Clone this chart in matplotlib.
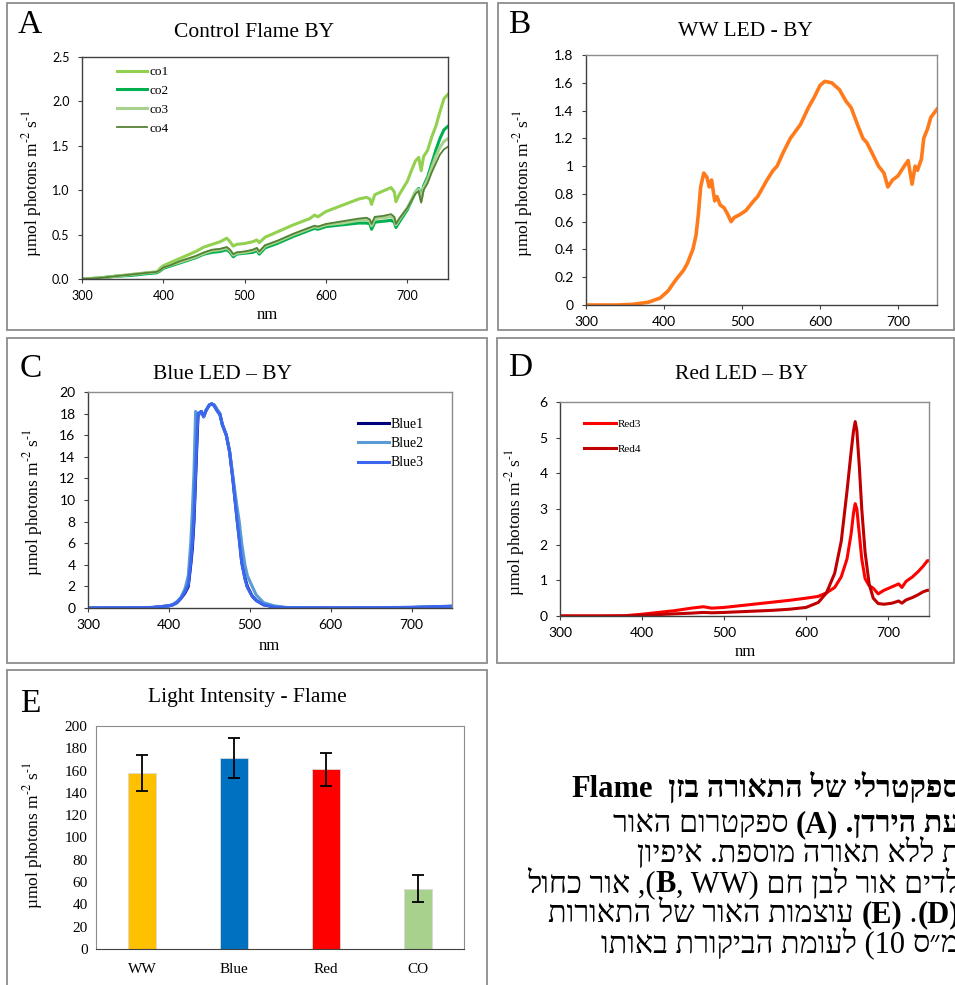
import matplotlib
matplotlib.use("Agg")
import matplotlib.pyplot as plt
from matplotlib.patches import Rectangle
from matplotlib.transforms import Bbox

plt.rcParams['font.family'] = ['Liberation Serif', 'DejaVu Sans']
plt.rcParams['mathtext.fontset'] = 'stix'

W, H = 955, 985

# ---- data ----
wl_a = [300, 320, 340, 360, 380, 392, 396, 400, 410, 420, 430, 440, 450, 460, 470, 478, 482, 486, 490,
        500, 510, 515, 518, 525, 540, 560, 580, 586, 590, 600, 620, 640, 650, 654, 656, 660, 670, 680,
        684, 686, 690, 700, 705, 710, 714, 717, 720, 725, 730, 735, 740, 745, 750]
co1 = [0.0, 0.01, 0.03, 0.05, 0.07, 0.08, 0.12, 0.15, 0.19, 0.23, 0.27, 0.31, 0.36, 0.39, 0.42, 0.46, 0.42,
       0.37, 0.39, 0.40, 0.42, 0.44, 0.41, 0.47, 0.53, 0.61, 0.68, 0.72, 0.70, 0.76, 0.83, 0.90, 0.92, 0.90,
       0.84, 0.95, 0.99, 1.03, 0.98, 0.87, 0.95, 1.10, 1.22, 1.33, 1.37, 1.22, 1.38, 1.45, 1.60, 1.72, 1.88,
       2.03, 2.08]
co2 = [0.0, 0.01, 0.03, 0.04, 0.06, 0.07, 0.09, 0.12, 0.15, 0.18, 0.21, 0.24, 0.28, 0.30, 0.31, 0.33, 0.30,
       0.25, 0.28, 0.29, 0.30, 0.32, 0.28, 0.35, 0.40, 0.48, 0.55, 0.57, 0.56, 0.59, 0.61, 0.63, 0.63, 0.62,
       0.56, 0.64, 0.65, 0.66, 0.64, 0.58, 0.64, 0.78, 0.88, 0.98, 1.02, 0.90, 1.05, 1.15, 1.30, 1.45, 1.58,
       1.68, 1.72]
co3 = [0.0, 0.01, 0.03, 0.05, 0.07, 0.08, 0.10, 0.13, 0.16, 0.19, 0.22, 0.25, 0.29, 0.32, 0.33, 0.35, 0.32,
       0.27, 0.29, 0.30, 0.32, 0.34, 0.30, 0.37, 0.42, 0.50, 0.57, 0.59, 0.58, 0.61, 0.63, 0.66, 0.67, 0.65,
       0.60, 0.68, 0.69, 0.70, 0.68, 0.61, 0.67, 0.80, 0.89, 0.98, 1.01, 0.88, 1.03, 1.12, 1.25, 1.38, 1.48,
       1.55, 1.58]
co4 = [0.0, 0.01, 0.03, 0.05, 0.07, 0.08, 0.10, 0.13, 0.16, 0.20, 0.23, 0.26, 0.30, 0.33, 0.34, 0.36, 0.33,
       0.28, 0.30, 0.31, 0.33, 0.35, 0.31, 0.38, 0.43, 0.51, 0.58, 0.60, 0.59, 0.62, 0.65, 0.68, 0.69, 0.67,
       0.62, 0.70, 0.71, 0.73, 0.70, 0.62, 0.68, 0.80, 0.88, 0.96, 0.99, 0.86, 1.00, 1.08, 1.20, 1.30, 1.40,
       1.46, 1.49]

wl_b = [300, 340, 360, 380, 395, 405, 415, 425, 430, 437, 441, 444, 447, 451, 455, 458, 461, 465, 468, 472,
        477, 482, 486, 490, 497, 505, 515, 520, 527, 532, 540, 545, 553, 562, 575, 585, 593, 600, 606, 615,
        625, 633, 640, 648, 655, 660, 668, 675, 682, 687, 693, 700, 708, 713, 718, 722, 725, 730, 733, 738,
        742, 750]
ww = [0.0, 0.0, 0.005, 0.02, 0.05, 0.1, 0.18, 0.25, 0.3, 0.4, 0.5, 0.65, 0.85, 0.95, 0.92, 0.85, 0.9, 0.75,
      0.78, 0.72, 0.7, 0.65, 0.6, 0.63, 0.65, 0.68, 0.75, 0.78, 0.85, 0.9, 0.97, 1.0, 1.1, 1.2, 1.3, 1.42,
      1.5, 1.58, 1.61, 1.6, 1.55, 1.47, 1.42, 1.3, 1.2, 1.17, 1.08, 1.0, 0.95, 0.85, 0.9, 0.93, 1.0, 1.04,
      0.87, 1.0, 0.97, 1.05, 1.2, 1.27, 1.35, 1.41]

wl_c = [300, 350, 380, 400, 405, 410, 415, 420, 424, 427, 429, 431, 433, 435, 436, 438, 440, 443, 446, 450,
        453, 456, 460, 463, 466, 471, 475, 479, 484, 487, 490, 494, 497, 503, 508, 517, 530, 545, 600, 700, 750]
blue1 = [0, 0.02, 0.05, 0.2, 0.3, 0.5, 0.9, 1.4, 2.0, 4.0, 5.5, 8, 12, 16, 17.8, 18.0, 18.2, 17.7, 18.3, 18.8,
         18.9, 18.8, 18.3, 18.0, 17.0, 16.0, 14.5, 12.0, 8.5, 6.5, 4.3, 2.8, 2.0, 1.1, 0.7, 0.3, 0.1, 0.03, 0.0,
         0.05, 0.15]
blue2 = [0, 0.02, 0.05, 0.2, 0.35, 0.6, 1.0, 1.8, 3.0, 6.0, 9.0, 12.5, 18.2, 18.0, 17.9, 18.0, 18.2, 17.7, 18.3,
         18.8, 18.9, 18.8, 18.3, 18.0, 17.0, 16.0, 14.5, 12.3, 9.5, 8.0, 6.0, 4.0, 3.0, 2.0, 1.2, 0.5, 0.2, 0.05,
         0.0, 0.05, 0.15]
blue3 = [0, 0.02, 0.05, 0.2, 0.3, 0.5, 0.9, 1.5, 2.2, 4.2, 6.0, 8.5, 12.5, 16.5, 18.0, 18.1, 18.2, 17.8, 18.3,
         18.8, 18.9, 18.7, 18.2, 17.9, 17.0, 16.0, 14.5, 12.0, 8.3, 6.3, 4.2, 2.7, 1.9, 1.1, 0.7, 0.3, 0.1, 0.03,
         0.01, 0.06, 0.17]

wl_d = [300, 350, 380, 400, 420, 440, 460, 475, 485, 500, 520, 540, 560, 580, 600, 615, 625, 635, 643, 650,
        655, 658, 660, 662, 665, 668, 672, 677, 682, 688, 695, 705, 713, 717, 722, 730, 737, 743, 748, 750]
red3 = [0, 0, 0.01, 0.05, 0.1, 0.15, 0.22, 0.26, 0.22, 0.24, 0.29, 0.34, 0.39, 0.44, 0.5, 0.55, 0.65, 0.8,
        1.1, 1.6, 2.3, 2.9, 3.15, 3.0, 2.3, 1.6, 1.05, 0.85, 0.78, 0.62, 0.72, 0.82, 0.9, 0.8, 0.97, 1.1,
        1.25, 1.4, 1.55, 1.55]
red4 = [0, 0, 0, 0.02, 0.04, 0.06, 0.08, 0.1, 0.09, 0.1, 0.12, 0.14, 0.16, 0.19, 0.24, 0.38, 0.65, 1.2, 2.1,
        3.5, 4.6, 5.2, 5.45, 5.2, 4.2, 3.0, 1.8, 0.9, 0.5, 0.35, 0.33, 0.36, 0.42, 0.36, 0.45, 0.52, 0.6,
        0.68, 0.72, 0.72]

bar_labels = ['WW', 'Blue', 'Red', 'CO']
bar_values = [158, 171, 161, 54]
bar_errors = [16, 18, 15, 12]
bar_colors = ['#ffc000', '#0070c0', '#ff0000', '#a9d18e']

ylab = r'µmol photons m$^{\text{-2}}$ s$^{\text{-1}}$'


def rect(l, t, r, b):
    return [l / W, 1 - b / H, (r - l) / W, (b - t) / H]


def ftext(x, y, s, **kw):
    return fig.text(x / W, 1 - y / H, s, **kw)


def frame(l, t, r, b):
    fig.add_artist(Rectangle((l / W, 1 - b / H), (r - l) / W, (b - t) / H, transform=fig.transFigure,
                             fill=False, edgecolor='#8c8c8c', lw=1.3))


def style(ax, xlim, ylim, yticks, fmt=None, tick_font='Lato', tsize=9.5):
    ax.set_xlim(*xlim)
    ax.set_ylim(*ylim)
    ax.set_yticks(yticks)
    if fmt:
        ax.set_yticklabels([fmt.format(v) for v in yticks])
    else:
        ax.set_yticklabels(['{:g}'.format(v) for v in yticks])
    for s in ax.spines.values():
        s.set_color('#8c8c8c')
        s.set_linewidth(1.0)
    ax.spines['left'].set_color('#404040')
    ax.spines['bottom'].set_color('#404040')
    ax.tick_params(length=3, width=0.8, color='#404040')
    ax.tick_params(axis='y', pad=6)
    ax.tick_params(axis='x', pad=5)
    for lab in ax.get_xticklabels() + ax.get_yticklabels():
        lab.set_family(tick_font)
        lab.set_fontsize(tsize)


fig = plt.figure(figsize=(W / 100, H / 100), dpi=100)

# ---- A ----
frame(7, 3, 487, 330)
axA = fig.add_axes(rect(82, 57, 448, 279))
axA.plot(wl_a, co1, color='#92d050', lw=2.2, label='co1')
axA.plot(wl_a, co2, color='#00b050', lw=2.2, label='co2')
axA.plot(wl_a, co3, color='#a9d18e', lw=2.2, label='co3')
axA.plot(wl_a, co4, color='#548235', lw=1.3, label='co4')
axA.set_xticks([300, 400, 500, 600, 700])
style(axA, (300, 750), (0, 2.5), [0, 0.5, 1.0, 1.5, 2.0, 2.5], fmt='{:.1f}', tsize=9)
for s in axA.spines.values():
    s.set_color('#404040')
axA.legend(loc='upper left', bbox_to_anchor=(117 / W, 1 - 66 / H), bbox_transform=fig.transFigure,
           frameon=False, fontsize=9.5, handlelength=2.3, handletextpad=0.15, labelspacing=0.5,
           borderpad=0, borderaxespad=0)
ftext(18, 33, 'A', fontsize=24)
ftext(254, 37, 'Control Flame BY', fontsize=15.5, ha='center')
ftext(32, 183, ylab, fontsize=12.5, rotation=90, ha='center', va='center')
ftext(267, 315, 'nm', fontsize=12, ha='center', va='center')

# ---- B ----
frame(498, 3, 954, 330)
axB = fig.add_axes(rect(586, 55, 937, 305))
axB.plot(wl_b, ww, color='#ff7a1a', lw=2.6)
axB.set_xticks([300, 400, 500, 600, 700])
style(axB, (300, 750), (0, 1.8), [0, 0.2, 0.4, 0.6, 0.8, 1.0, 1.2, 1.4, 1.6, 1.8], tsize=10)
ftext(508, 33, 'B', fontsize=24)
ftext(745, 36, 'WW LED - BY', fontsize=15.5, ha='center')
ftext(523, 183, ylab, fontsize=12.5, rotation=90, ha='center', va='center')

# ---- C ----
frame(7, 338, 487, 663)
axC = fig.add_axes(rect(88, 392, 452, 608))
axC.plot(wl_c, blue1, color='#00007f', lw=2.2, label='Blue1')
axC.plot(wl_c, blue2, color='#5b9bd5', lw=2.2, label='Blue2')
axC.plot(wl_c, blue3, color='#3a66f0', lw=2.2, label='Blue3')
axC.set_xticks([300, 400, 500, 600, 700])
style(axC, (300, 750), (0, 20), list(range(0, 21, 2)), tsize=10)
axC.legend(loc='upper left', bbox_to_anchor=(358 / W, 1 - 418 / H), bbox_transform=fig.transFigure,
           frameon=False, fontsize=10, handlelength=2.2, handletextpad=0.15, labelspacing=0.45,
           borderpad=0, borderaxespad=0)
ftext(20, 377, 'C', fontsize=24)
ftext(222, 379, 'Blue LED – BY', fontsize=15.5, ha='center')
ftext(33, 502, ylab, fontsize=12.5, rotation=90, ha='center', va='center')
ftext(269, 646, 'nm', fontsize=12, ha='center', va='center')

# ---- D ----
frame(497, 338, 954, 663)
axD = fig.add_axes(rect(560, 402, 929, 616))
axD.plot(wl_d, red3, color='#ff0000', lw=2.2, label='Red3')
axD.plot(wl_d, red4, color='#c00000', lw=2.2, label='Red4')
axD.set_xticks([300, 400, 500, 600, 700])
style(axD, (300, 750), (0, 6), list(range(0, 7)), tsize=10)
axD.legend(loc='upper left', bbox_to_anchor=(584 / W, 1 - 419 / H), bbox_transform=fig.transFigure,
           frameon=False, fontsize=8, handlelength=2.9, handletextpad=0.15, labelspacing=1.35,
           borderpad=0, borderaxespad=0)
ftext(508, 376, 'D', fontsize=24)
ftext(742, 379, 'Red LED – BY', fontsize=15.5, ha='center')
ftext(515, 522, ylab, fontsize=12.5, rotation=90, ha='center', va='center')
ftext(745, 652, 'nm', fontsize=12, ha='center', va='center')

# ---- E ----
frame(7, 670, 487, 1000)
axE = fig.add_axes(rect(96, 726, 464, 949))
xs = list(range(len(bar_labels)))
axE.bar(xs, bar_values, width=0.31, color=bar_colors, edgecolor='#d9d9d9', lw=0.6,
        yerr=bar_errors, capsize=4, error_kw=dict(elinewidth=1.3, capthick=1.3, ecolor='black'))
axE.set_xlim(-0.5, 3.5)
axE.set_ylim(0, 200)
axE.set_xticks(xs)
axE.set_xticklabels(bar_labels)
axE.set_yticks(range(0, 201, 20))
for s in axE.spines.values():
    s.set_color('#8c8c8c')
axE.spines['bottom'].set_color('#404040')
axE.tick_params(length=0, pad=6, labelsize=11)
axE.tick_params(axis='x', pad=10)
ftext(20, 712, 'E', fontsize=24)
ftext(247, 702, 'Light Intensity - Flame', fontsize=15.5, ha='center')
ftext(33, 835, ylab, fontsize=12.5, rotation=90, ha='center', va='center')


# ---- Hebrew caption (clipped by panel E and the page edge) ----
def heb(s):
    return s[::-1].translate(str.maketrans('()', ')('))


cap_lines = [
    (797, [('Flame', 'bold'), ('  ' + heb('ספקטרלי של התאורה בזן'), 'bold')]),
    (832, [(heb('ספקטרום האור') + ' ', 'normal'), ('(A)', 'bold'), (' ' + heb('עת הירדן.'), 'bold')]),
    (862, [(heb('ת ללא תאורה מוספת. איפיון'), 'normal')]),
    (892, [(heb('אור כחול') + ' ,(', 'normal'), ('B', 'bold'), (', WW) ' + heb('לדים אור לבן חם'), 'normal')]),
    (922, [(heb('עוצמות האור של התאורות') + ' ', 'normal'), ('(E)', 'bold'), (' .', 'normal'), ('(D)', 'bold')]),
    (952, [(heb('לעומת הביקורת באותו') + ' (10 ', 'normal'), ('ס״מ', 'normal')]),
]

renderer = fig.canvas.get_renderer()
clip = Bbox([[488, 0], [955, H]])
for y, segs in cap_lines:
    x = 960
    for s, wgt in reversed(segs):
        t = ftext(x, y, s, ha='right', va='baseline', fontsize=22, fontweight=wgt)
        t.set_clip_box(clip)
        t.set_clip_on(True)
        x -= t.get_window_extent(renderer).width

fig.savefig('out.png', dpi=100)
